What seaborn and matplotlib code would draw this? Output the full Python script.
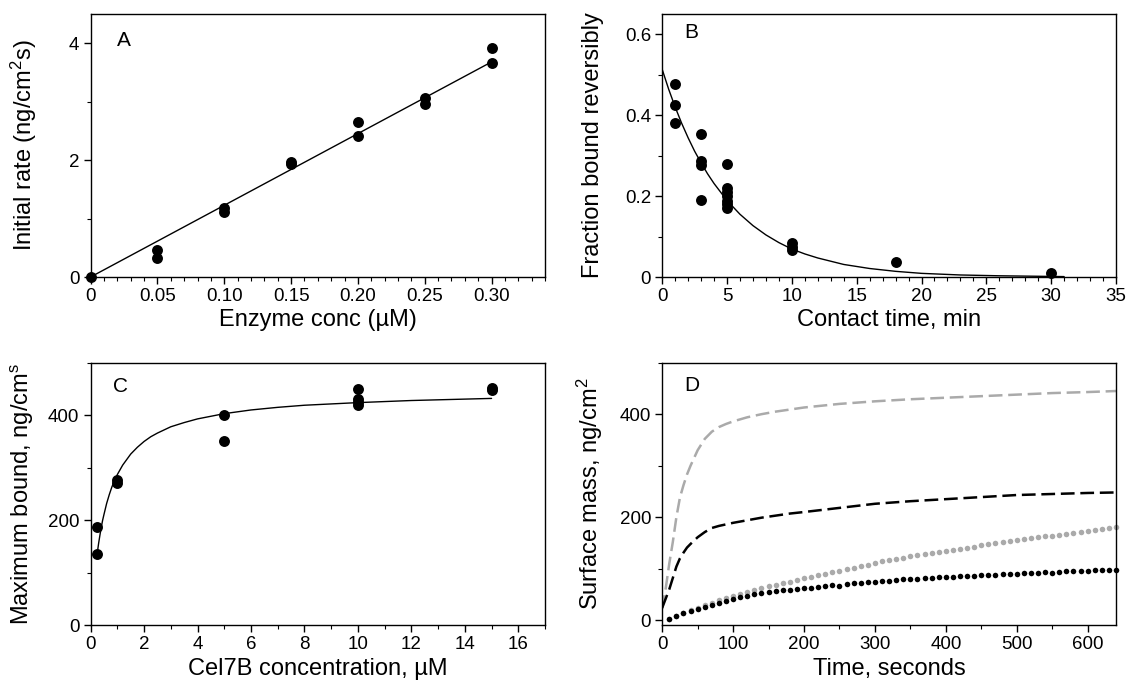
import numpy as np
import pandas as pd
import matplotlib
matplotlib.use("Agg")
import matplotlib.pyplot as plt
import seaborn as sns
from matplotlib.ticker import FixedLocator, MultipleLocator

# ---------------- data ----------------
# Panel A: initial rate vs enzyme concentration
a_conc = [0.0, 0.05, 0.05, 0.10, 0.10, 0.15, 0.15, 0.20, 0.20, 0.25, 0.25, 0.30, 0.30]
a_rate = [0.0, 0.46, 0.32, 1.18, 1.12, 1.97, 1.93, 2.65, 2.42, 3.07, 2.96, 3.92, 3.67]
a_fit_x = [0.0, 0.30]
a_fit_y = [0.0, 3.68]

# Panel B: fraction bound reversibly vs contact time
b_time = [1, 1, 1, 3, 3, 3, 3, 5, 5, 5, 5, 5, 5, 5, 10, 10, 10, 18, 30]
b_frac = [0.478, 0.425, 0.380, 0.353, 0.287, 0.278, 0.190,
          0.279, 0.219, 0.209, 0.199, 0.188, 0.180, 0.170,
          0.084, 0.074, 0.066, 0.038, 0.010]
b_fit_x = [0, 0.5, 1, 1.5, 2, 2.5, 3, 3.5, 4, 5, 6, 7, 8, 9, 10, 11, 12, 14, 16, 18, 20,
           23, 26, 31]
b_fit_y = [0.513, 0.464, 0.420, 0.380, 0.344, 0.311, 0.282, 0.255, 0.231, 0.189, 0.155,
           0.127, 0.104, 0.085, 0.069, 0.057, 0.047, 0.031, 0.021, 0.014, 0.009, 0.005,
           0.003, 0.001]

# Panel C: maximum bound vs Cel7B concentration
c_conc = [0.25, 0.25, 1, 1, 5, 5, 10, 10, 10, 10, 15, 15]
c_bound = [187, 135, 277, 270, 400, 350, 450, 431, 425, 420, 448, 452]
c_fit_x = [0.25, 0.3, 0.35, 0.4, 0.45, 0.5, 0.6, 0.7, 0.8, 1.0, 1.2, 1.5, 1.75, 2.0, 2.25,
           2.5, 3.0, 3.5, 4.0, 4.5, 5, 6, 7, 8, 10, 12, 15]
c_fit_y = [138, 156, 172, 187, 200, 211, 232, 249, 264, 287, 305, 326, 339, 350, 359,
           366, 378, 386, 393, 398, 403, 410, 415, 419, 424, 428, 432]

# Panel D: surface mass vs time
d_t_dash = [0, 5, 10, 15, 20, 25, 30, 35, 40, 50, 60, 70, 80, 90, 100, 120, 140, 160,
            180, 200, 250, 300, 350, 400, 450, 500, 550, 600, 640]
d_gray_dash = [22, 62, 110, 152, 200, 238, 262, 283, 300, 330, 352, 366, 375, 381, 386,
               394, 400, 405, 409, 413, 420, 425, 429, 432, 435, 438, 441, 443, 445]
d_black_dash = [24, 42, 60, 82, 104, 120, 131, 141, 148, 161, 171, 179, 183, 186, 189,
                194, 199, 203, 207, 210, 218, 226, 231, 235, 239, 243, 245, 247, 248]
d_t_dot = list(range(10, 650, 10))
d_gray_dot = [3, 8, 14, 19, 24, 29, 34, 39, 43, 47, 51, 55, 58, 62, 66, 69, 72, 75, 78, 81,
              84, 87, 90, 93, 96, 99, 102, 105, 108, 111, 114, 116, 119, 121, 124, 126, 128,
              131, 133, 135, 137, 139, 141, 143, 145, 147, 149, 151, 153, 155, 157, 159, 161,
              163, 164, 166, 168, 170, 171, 173, 175, 177, 178, 180]
d_black_dot = [3, 8, 13, 18, 22, 26, 30, 34, 38, 42, 45, 47, 50, 52, 54, 56, 58, 59, 61, 62,
               63, 65, 66, 68, 67, 70, 72, 72, 74, 75, 76, 77, 78, 79, 79, 80, 81, 82, 83, 84,
               83, 85, 86, 86, 87, 88, 88, 89, 90, 89, 91, 92, 92, 93, 92, 94, 95, 95, 96, 95,
               98, 97, 97, 98]

# tick labels
a_xticks = [0, 0.05, 0.10, 0.15, 0.20, 0.25, 0.30]
a_xlabels = ["0", "0.05", "0.10", "0.15", "0.20", "0.25", "0.30"]
a_yticks = [0, 2, 4]
b_xticks = [0, 5, 10, 15, 20, 25, 30, 35]
b_yticks = [0, 0.2, 0.4, 0.6]
b_ylabels = ["0", "0.2", "0.4", "0.6"]
c_xticks = [0, 2, 4, 6, 8, 10, 12, 14, 16]
c_yticks = [0, 200, 400]
d_xticks = [0, 100, 200, 300, 400, 500, 600]
d_yticks = [0, 200, 400]

# ---------------- style ----------------
sns.set_theme(style="ticks")
plt.rcParams["font.family"] = ["Liberation Sans", "DejaVu Sans"]
plt.rcParams["mathtext.fontset"] = "custom"
plt.rcParams["mathtext.rm"] = "Liberation Sans"
plt.rcParams["mathtext.default"] = "regular"
plt.rcParams["text.color"] = "black"
plt.rcParams["axes.labelcolor"] = "black"
plt.rcParams["xtick.color"] = "black"
plt.rcParams["ytick.color"] = "black"

fig = plt.figure(figsize=(11.28, 6.81), dpi=100)
W, H = 1128, 681


def add_ax(left, top, right, bottom):
    return fig.add_axes([left / W, 1 - bottom / H, (right - left) / W, (bottom - top) / H])


axA = add_ax(90.6, 14, 545, 277)
axB = add_ax(662.2, 14, 1116, 277)
axC = add_ax(90.6, 362.7, 545, 625.3)
axD = add_ax(662.2, 362.7, 1116, 625.3)

dot_kw = dict(color="black", s=62, linewidth=0, zorder=3, legend=False)

# A
sns.lineplot(x=a_fit_x, y=a_fit_y, ax=axA, color="black", lw=1.0, estimator=None, sort=False)
sns.scatterplot(x=a_conc, y=a_rate, ax=axA, clip_on=False, **dot_kw)
axA.set_xlim(0, 0.34)
axA.set_ylim(0, 4.5)
axA.xaxis.set_major_locator(FixedLocator(a_xticks))
axA.set_xticklabels(a_xlabels)
axA.xaxis.set_minor_locator(MultipleLocator(0.01))
axA.yaxis.set_major_locator(FixedLocator(a_yticks))
axA.yaxis.set_minor_locator(MultipleLocator(1))
axA.set_xlabel("Enzyme conc (\u00b5M)")
axA.set_ylabel("Initial rate (ng/cm$^2$s)")
axA.text(0.058, 0.90, "A", transform=axA.transAxes, fontsize=15, va="center", ha="left",
         color="black")
axA.yaxis.set_label_coords(-0.114, 0.5)

# B
sns.lineplot(x=b_fit_x, y=b_fit_y, ax=axB, color="black", lw=1.0, estimator=None, sort=False)
sns.scatterplot(x=b_time, y=b_frac, ax=axB, clip_on=False, **dot_kw)
axB.set_xlim(0, 35)
axB.set_ylim(0, 0.65)
axB.xaxis.set_major_locator(FixedLocator(b_xticks))
axB.xaxis.set_minor_locator(MultipleLocator(1))
axB.yaxis.set_major_locator(FixedLocator(b_yticks))
axB.set_yticklabels(b_ylabels)
axB.yaxis.set_minor_locator(MultipleLocator(0.1))
axB.set_xlabel("Contact time, min")
axB.set_ylabel("Fraction bound reversibly")
axB.text(0.049, 0.93, "B", transform=axB.transAxes, fontsize=15, va="center", ha="left",
         color="black")
axB.yaxis.set_label_coords(-0.128, 0.5)

# C
sns.lineplot(x=c_fit_x, y=c_fit_y, ax=axC, color="black", lw=1.0, estimator=None, sort=False)
sns.scatterplot(x=c_conc, y=c_bound, ax=axC, clip_on=False, **dot_kw)
axC.set_xlim(0, 17)
axC.set_ylim(0, 500)
axC.xaxis.set_major_locator(FixedLocator(c_xticks))
axC.xaxis.set_minor_locator(MultipleLocator(1))
axC.yaxis.set_major_locator(FixedLocator(c_yticks))
axC.yaxis.set_minor_locator(MultipleLocator(100))
axC.set_xlabel("Cel7B concentration, \u00b5M")
axC.set_ylabel("Maximum bound, ng/cm$^s$")
axC.text(0.05, 0.91, "C", transform=axC.transAxes, fontsize=15, va="center", ha="left",
         color="black")
axC.yaxis.set_label_coords(-0.12, 0.5)

# D
gray = "#aaaaaa"
sns.lineplot(x=d_t_dash, y=d_gray_dash, ax=axD, color=gray, lw=1.8, estimator=None,
             sort=False, dashes=False, linestyle=(0, (5.5, 2.3)))
sns.lineplot(x=d_t_dash, y=d_black_dash, ax=axD, color="black", lw=1.8, estimator=None,
             sort=False, dashes=False, linestyle=(0, (5.5, 2.3)))
sns.scatterplot(x=d_t_dot, y=d_gray_dot, ax=axD, color=gray, s=16, linewidth=0, legend=False,
                clip_on=False)
sns.scatterplot(x=d_t_dot, y=d_black_dot, ax=axD, color="black", s=16, linewidth=0,
                legend=False, clip_on=False)
axD.set_xlim(0, 640)
axD.set_ylim(-10, 500)
axD.xaxis.set_major_locator(FixedLocator(d_xticks))
axD.xaxis.set_minor_locator(MultipleLocator(50))
axD.yaxis.set_major_locator(FixedLocator(d_yticks))
axD.yaxis.set_minor_locator(MultipleLocator(100))
axD.set_xlabel("Time, seconds")
axD.set_ylabel("Surface mass, ng/cm$^2$")
axD.text(0.049, 0.915, "D", transform=axD.transAxes, fontsize=15, va="center", ha="left",
         color="black")
axD.yaxis.set_label_coords(-0.126, 0.5)

for ax in (axA, axB, axC, axD):
    for sp in ax.spines.values():
        sp.set_visible(True)
        sp.set_color("black")
        sp.set_linewidth(1.0)
    ax.tick_params(which="major", direction="out", length=5, width=1.0, colors="black",
                   labelsize=13.5, pad=3)
    ax.tick_params(which="minor", direction="out", length=3, width=0.8, colors="black")
    ax.tick_params(top=False, right=False, which="both")
    ax.xaxis.label.set_size(17)
    ax.yaxis.label.set_size(17)
    ax.xaxis.labelpad = 3
    ax.set_facecolor("white")
    ax.grid(False)

fig.savefig("out.png", dpi=100, facecolor="white")
